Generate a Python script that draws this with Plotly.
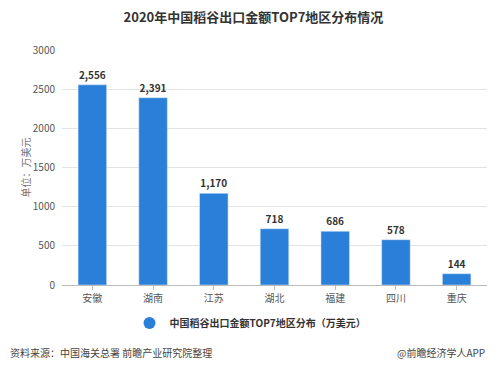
import plotly.graph_objects as go

categories = ["安徽", "湖南", "江苏", "湖北", "福建", "四川", "重庆"]
values = [2556, 2391, 1170, 718, 686, 578, 144]
labels = ["2,556", "2,391", "1,170", "718", "686", "578", "144"]
y_ticks = [0, 500, 1000, 1500, 2000, 2500, 3000]
series_name = "中国稻谷出口金额TOP7地区分布（万美元）"

FONT = "Noto Sans CJK SC"
BLUE = "#2a7fd9"

# page body has an 8px default margin, so the figure is sized to fit the window
W, H = 491, 361
L, R, T, B = 54, 12, 42, 84
PW, PH = W - L - R, H - T - B

fig = go.Figure()
fig.add_trace(go.Bar(
    x=categories, y=values, text=labels, textposition="outside",
    textfont=dict(family=FONT, size=10, color="#333333", weight="bold"),
    marker=dict(color=BLUE), width=0.47, showlegend=False,
    cliponaxis=False,
))
fig.add_trace(go.Scatter(
    x=[None], y=[None], mode="markers", name=series_name,
    marker=dict(symbol="circle", size=10, color=BLUE),
))

fig.update_layout(
    width=W, height=H,
    margin=dict(l=L, r=R, t=T, b=B, autoexpand=False),
    paper_bgcolor="white", plot_bgcolor="white",
    font=dict(family=FONT, size=10, color="#555555"),
    title=dict(text="<b>2020年中国稻谷出口金额TOP7地区分布情况</b>",
               x=0.5, xanchor="center", y=1 - 9 / H, yanchor="middle",
               font=dict(family=FONT, size=13, color="#333333")),
    showlegend=True,
    legend=dict(orientation="h", x=0.5 - 24 / PW, xanchor="center", y=-(315 - 277) / PH,
                yanchor="middle",
                font=dict(family=FONT, size=10, color="#333333", weight="bold"),
                itemsizing="constant"),
    yaxis=dict(range=[0, 3000], tickvals=y_ticks, showgrid=True, gridcolor="#e3e3e3",
               gridwidth=1, zeroline=False, showline=False, ticks="", ticklabelstandoff=6,
               tickfont=dict(size=10, color="#555555"),
               title=dict(text="单位：万美元", font=dict(size=10, color="#777777"), standoff=0)),
    xaxis=dict(showline=True, linecolor="#bbbbbb", ticks="outside", tickcolor="#bbbbbb",
               ticklen=4, tickfont=dict(size=10, color="#555555")),
)

fig.add_annotation(text="资料来源：中国海关总署 前瞻产业研究院整理", xref="paper", yref="paper",
                   x=-L / PW, xanchor="left", y=-(344 - 277) / PH, yanchor="middle", showarrow=False,
                   font=dict(family=FONT, size=10, color="#444444"))
fig.add_annotation(text="@前瞻经济学人APP", xref="paper", yref="paper",
                   x=(W - L - 12) / PW, xanchor="right", y=-(344 - 277) / PH, yanchor="middle",
                   showarrow=False, font=dict(family=FONT, size=10, color="#444444"))

fig.write_html("out.html")
